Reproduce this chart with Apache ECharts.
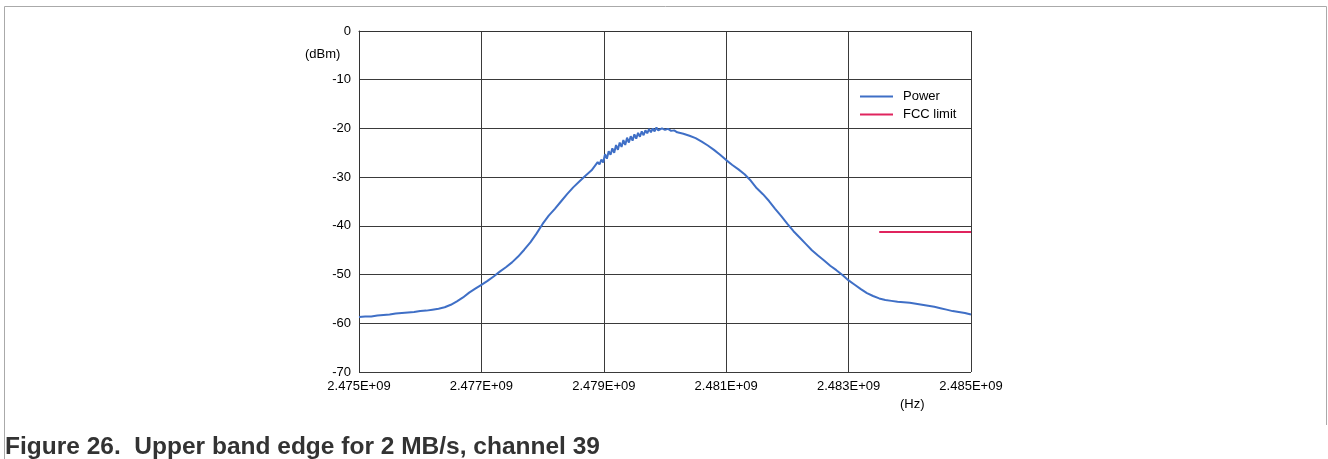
<!DOCTYPE html>
<html>
<head>
<meta charset="utf-8">
<script src="https://cdn.jsdelivr.net/npm/echarts@6/dist/echarts.min.js"></script>
<style>
html,body{margin:0;padding:0;background:#fff;}
#chart{width:1328px;height:459px;}
</style>
</head>
<body>
<div id="chart"></div>
<script>
// Frequency offsets from 2.475 GHz, in MHz
const freqStartMHz = 2475;
const freqOffsetMHz = [
0.0,0.1,0.2,0.3,0.4,0.5,0.6,0.7,0.8,0.9,
1.0,1.1,1.2,1.3,1.4,1.5,1.6,1.7,1.8,1.9,
2.0,2.1,2.2,2.3,2.4,2.5,2.6,2.7,2.8,2.9,
3.0,3.1,3.2,3.3,3.4,3.5,3.6,3.7,3.8,
3.90,3.93,3.96,3.99,4.02,4.05,4.08,4.11,4.14,4.17,4.20,4.23,4.26,4.29,4.32,4.35,4.38,4.41,
4.44,4.47,4.50,4.53,4.56,4.59,4.62,4.65,4.68,4.71,4.74,4.77,4.80,4.83,4.86,4.89,4.95,
5.0,5.05,5.1,5.15,5.2,5.3,5.4,5.5,5.6,5.7,5.8,5.9,
6.0,6.1,6.2,6.3,6.4,6.5,6.6,6.7,6.8,6.9,
7.0,7.1,7.2,7.3,7.4,7.5,7.6,7.7,7.8,7.9,
8.0,8.1,8.2,8.3,8.4,8.5,8.6,8.7,8.8,8.9,
9.0,9.1,9.2,9.3,9.4,9.5,9.6,9.7,9.8,9.9,10.0
];
const powerDbm = [
-58.7,-58.6,-58.6,-58.4,-58.3,-58.2,-58.0,-57.9,-57.8,-57.7,
-57.5,-57.4,-57.2,-57.0,-56.7,-56.2,-55.5,-54.7,-53.7,-52.9,
-52.1,-51.3,-50.4,-49.4,-48.5,-47.5,-46.3,-44.9,-43.4,-41.6,
-39.6,-37.9,-36.5,-35.0,-33.5,-32.1,-30.9,-29.7,-28.6,
-26.9,-27.4,-26.4,-27.0,-25.3,-26.2,-24.7,-25.4,-24.1,-25.0,-23.4,-24.4,-22.9,-23.8,-22.4,-23.4,-21.9,-22.9,
-21.6,-22.5,-21.2,-22.1,-20.9,-21.7,-20.6,-21.4,-20.4,-21.0,-20.1,-20.8,-20.0,-20.6,-19.8,-20.4,-20.0,
-20.3,-20.1,-20.5,-20.4,-20.8,-21.1,-21.5,-22.0,-22.7,-23.5,-24.4,-25.4,
-26.5,-27.5,-28.4,-29.4,-30.7,-32.3,-33.5,-34.9,-36.5,-38.0,
-39.6,-41.1,-42.4,-43.7,-45.0,-46.1,-47.1,-48.2,-49.1,-50.1,
-51.2,-52.1,-53.0,-53.8,-54.4,-54.9,-55.2,-55.4,-55.6,-55.7,
-55.8,-56.0,-56.2,-56.4,-56.6,-56.9,-57.2,-57.5,-57.7,-57.9,-58.2
];
const fccFreqOffsetMHz = [8.5, 10.0];
const fccLimitDbm = [-41.25, -41.25];

const powerData = freqOffsetMHz.map((f,i)=>[f, powerDbm[i]]);
const fccData = fccFreqOffsetMHz.map((f,i)=>[f, fccLimitDbm[i]]);

const FONT = 'Liberation Sans, Arial, sans-serif';
const chart = echarts.init(document.getElementById('chart'), null, {renderer:'canvas'});
chart.setOption({
  animation:false,
  backgroundColor:'#fff',
  grid:{left:359, top:31, width:612, height:341, containLabel:false},
  xAxis:{
    type:'value', min:0, max:10, interval:2,
    axisLine:{show:true, lineStyle:{color:'#333', width:1}},
    axisTick:{show:false},
    splitLine:{show:true, lineStyle:{color:'#3a3a3a', width:1}},
    axisLabel:{
      color:'#000', fontFamily:FONT, fontSize:13, margin:8,
      formatter:v=>((freqStartMHz+v)/1000).toFixed(3)+'E+09'
    }
  },
  yAxis:{
    type:'value', min:-70, max:0, interval:10,
    axisLine:{show:true, lineStyle:{color:'#333', width:1}},
    axisTick:{show:false},
    splitLine:{show:true, lineStyle:{color:'#3a3a3a', width:1}},
    axisLabel:{color:'#000', fontFamily:FONT, fontSize:13, margin:8}
  },
  legend:{
    orient:'vertical', left:860, top:90, padding:0, itemWidth:33, itemHeight:2, itemGap:5,
    icon:'rect',
    textStyle:{color:'#000', fontFamily:FONT, fontSize:13, padding:[0,0,0,5]},
    data:['Power','FCC limit']
  },
  series:[
    {name:'Power', type:'line', data:powerData, showSymbol:false, symbol:'none',
     lineStyle:{color:'#3f6fc6', width:2}, itemStyle:{color:'#3f6fc6'}},
    {name:'FCC limit', type:'line', data:fccData, showSymbol:false, symbol:'none',
     lineStyle:{color:'#e0245e', width:2}, itemStyle:{color:'#e0245e'}}
  ],
  graphic:[
    {type:'line', shape:{x1:4.5,y1:6.5,x2:1326.5,y2:6.5}, style:{stroke:'#aaa', lineWidth:1}},
    {type:'line', shape:{x1:4.5,y1:6.5,x2:4.5,y2:459}, style:{stroke:'#aaa', lineWidth:1}},
    {type:'line', shape:{x1:1326.5,y1:6.5,x2:1326.5,y2:425}, style:{stroke:'#aaa', lineWidth:1}},
    {type:'text', left:305, top:48, style:{text:'(dBm)', fill:'#000', font:'13px '+FONT}},
    {type:'text', left:900, top:398, style:{text:'(Hz)', fill:'#000', font:'13px '+FONT}},
    {type:'text', left:5, top:435, style:{text:'Figure 26.  Upper band edge for 2 MB/s, channel 39', fill:'#333', font:'bold 24.5px '+FONT}}
  ]
});
</script>
</body>
</html>
